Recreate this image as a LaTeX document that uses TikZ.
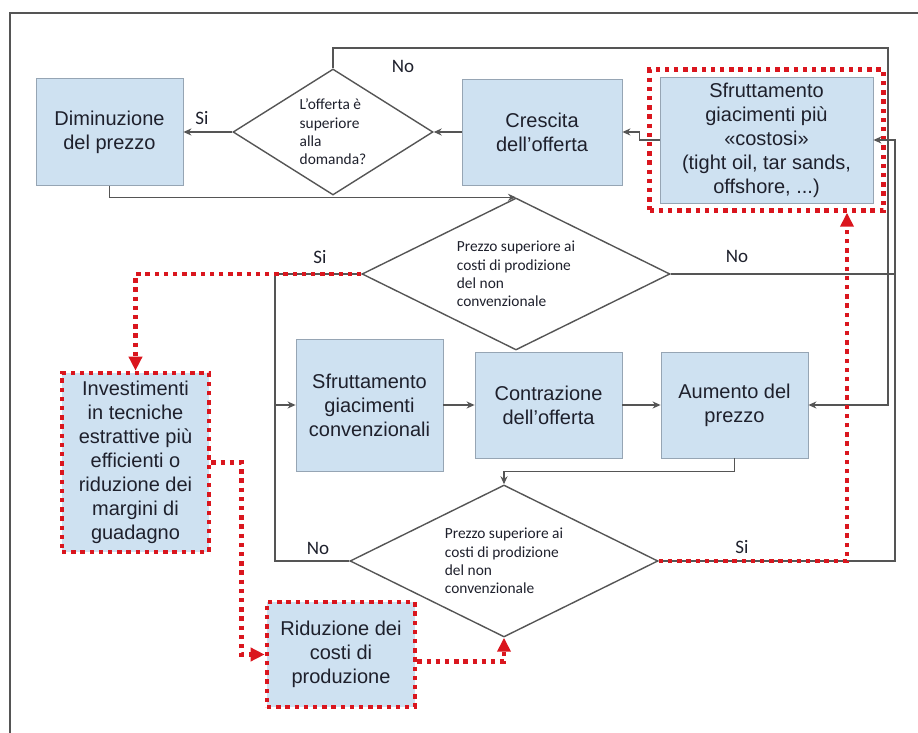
\documentclass[tikz,border=0pt]{standalone}
\usepackage{fontspec}
\setmainfont{Liberation Sans}
\newfontfamily\carl{Carlito}
\usetikzlibrary{arrows.meta,calc,shapes.geometric,fit}
\definecolor{boxfill}{RGB}{206,225,241}
\definecolor{boxedge}{RGB}{150,165,180}
\definecolor{boxtext}{RGB}{30,32,44}
\definecolor{linegray}{RGB}{85,85,85}
\definecolor{dotred}{RGB}{218,22,30}
\tikzset{
  blk/.style={rectangle, draw=boxedge, fill=boxfill, text=boxtext, align=center, inner sep=2pt, font=\fontsize{10}{12}\selectfont},
  chk/.style={diamond, draw=linegray, fill=white, aspect=1.6, inner sep=0pt, align=left, line width=0.7pt, text=boxtext, font=\carl\fontsize{7.7}{9.2}\selectfont},
  ln/.style={draw=linegray, line width=0.7pt},
  arr/.style={ln, -{Stealth[length=4pt,width=3.5pt]}},
  rdot/.style={draw=dotred, line width=2.3pt, dash pattern=on 2.2pt off 2.4pt},
  rarr/.style={rdot, -{Triangle[length=7pt,width=6.5pt]}},
  lbl/.style={font=\carl\fontsize{9.5}{11}\selectfont, text=boxtext},
}
\begin{document}
\begin{tikzpicture}[x=0.5pt,y=-0.5pt]
  \useasboundingbox (0,0) rectangle (918,733);
  % frame
  \draw[linegray, line width=0.8pt] (10,733) -- (10,13) -- (918,13);
  % boxes
  \node[blk, minimum width=73.5pt, minimum height=53.5pt] (dimi) at (109.5,132) {Diminuzione\\del prezzo};
  \node[blk, minimum width=80pt, minimum height=53pt] (cresc) at (542,132) {Crescita\\dell'offerta};
  \node[blk, minimum width=106.5pt, minimum height=63pt] (cost) at (766.5,140) {Sfruttamento\\giacimenti più\\«costosi»\\(tight oil, tar sands,\\offshore, ...)};
  \node[rdot, rectangle, fit=(cost), inner xsep=5pt, inner ysep=3.5pt] (costfr) {};
  \node[blk, minimum width=73.5pt, minimum height=66pt] (conv) at (369.5,405) {Sfruttamento\\giacimenti\\convenzionali};
  \node[blk, minimum width=73.5pt, minimum height=53pt] (contr) at (548.5,405) {Contrazione\\dell'offerta};
  \node[blk, minimum width=73.5pt, minimum height=53pt] (aum) at (734.5,405) {Aumento del\\prezzo};
  \node[blk, rdot, minimum width=73.5pt, minimum height=89.5pt] (inv) at (135.5,462.5) {Investimenti\\in tecniche\\estrattive più\\efficienti o\\riduzione dei\\margini di\\guadagno};
  \node[blk, rdot, minimum width=74pt, minimum height=52.5pt] (rid) at (341,654.5) {Riduzione dei\\costi di\\produzione};
  % decisions
  \node[chk, minimum width=100pt, minimum height=63pt] (d1) at (333,132) {L’offerta è\\superiore\\alla\\domanda?};
  \node[chk, minimum width=154pt, minimum height=76pt] (d2) at (516,274) {Prezzo superiore ai\\costi di prodizione\\del non\\convenzionale};
  \node[chk, minimum width=154pt, minimum height=76pt] (d3) at (504,561) {Prezzo superiore ai\\costi di prodizione\\del non\\convenzionale};
  % bends
  \coordinate (ntop) at (888,48);
  \coordinate (nrt) at (895,140);
  \coordinate (jl) at (275,274);
  \coordinate (ru) at (847,0);
  % gray connectors
  \draw[arr] (cost.west) -- ++(-20,0) |- (cresc.east);
  \draw[arr] (cresc.west) -- (d1.east);
  \draw[arr] (d1.west) -- (dimi.east);
  \draw[arr] (d1.north) |- (ntop) |- (aum.east);
  \draw[arr] (dimi.south) |- (d2.north);
  \draw[ln] (d2.west) -- (jl);
  \draw[ln] (d3.west) -| (jl);
  \draw[arr] (jl |- conv.west) -- (conv.west);
  \draw[ln] (d2.east) -- (d2.east -| nrt);
  \draw[arr] (d3.east) -| (nrt) -- (cost.east);
  \draw[arr] (conv.east) -- (contr.west);
  \draw[arr] (contr.east) -- (aum.west);
  \draw[arr] (aum.south) -- ++(0,13) -| (d3.north);
  % red path
  \draw[rarr] (d2.west) -| (inv.north);
  \draw[rarr] (inv.east) -- ++(30,0) |- (rid.west);
  \draw[rarr] ([yshift=-3.5pt]rid.east) -| (d3.south);
  \draw[rarr] (d3.east) -| (ru |- costfr.south);
  % labels
  \node[lbl] (si1) at (202,118) {Si};
  \node[lbl] (no1) at (403,66) {No};
  \node[lbl] (si2) at (320,257) {Si};
  \node[lbl] (no2) at (737,256) {No};
  \node[lbl] (no3) at (318,548) {No};
  \node[lbl] (si3) at (742,547) {Si};
\end{tikzpicture}
\end{document}
